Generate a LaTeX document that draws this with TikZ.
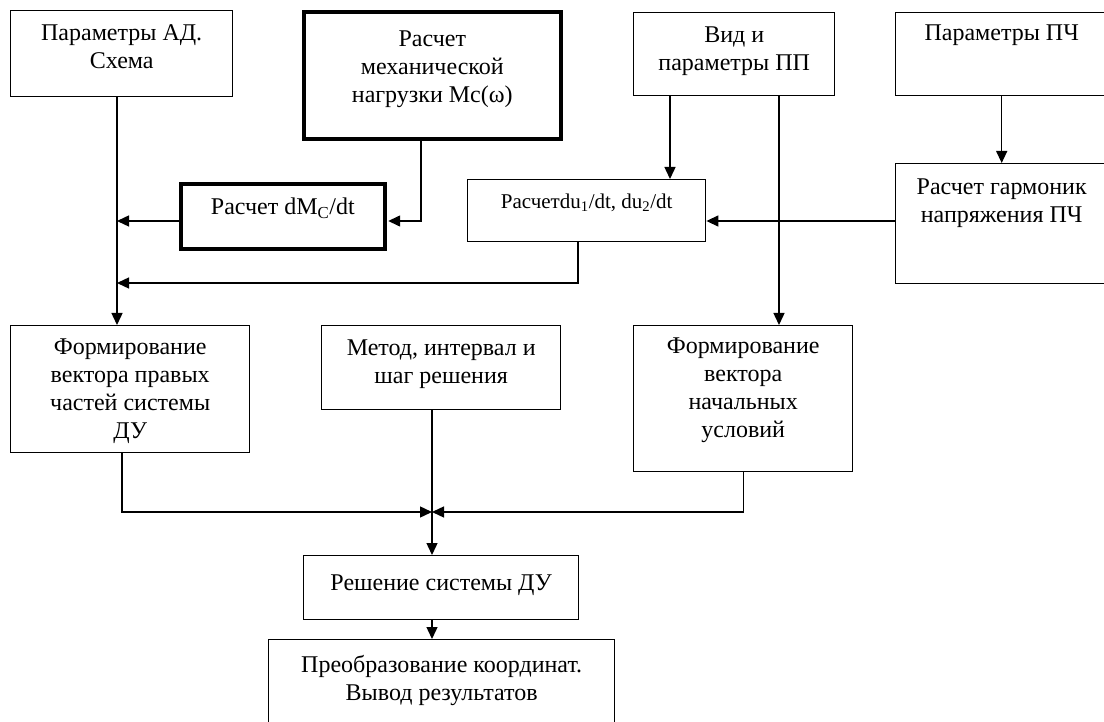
\documentclass[tikz,border=0pt]{standalone}
\usepackage{fontspec}
\setmainfont{Liberation Serif}
\usetikzlibrary{arrows.meta, positioning}

\begin{document}
\begin{tikzpicture}[
        x = 1pt, y = -1pt,
        line width = 1.4pt,
        >= {Triangle[length = 12pt, width = 11pt]},
        blk/.style n args = {3}{draw, align = center, inner sep = 0pt,
            anchor = north west, minimum width = #1pt,
            text height = #2pt, text depth = #3pt,
            font = \fontsize{24}{28}\selectfont},
        bold blk/.style = {line width = 3.6pt}
    ]

      \useasboundingbox (0,0) rectangle (1104,722);
      \clip (0,0) rectangle (1104,722);

      \node[blk = {222}{58}{28}] (adpar) at (10,10) {Параметры АД.\\ Схема};
      \node[blk = {257}{91}{36}, bold blk] (mload) at (302,10) {Расчет\\ механической\\ нагрузки Mc(ω)};
      \node[blk = {201}{58}{25}] (ppvid) at (633,12) {Вид и\\ параметры ПП};
      \node[blk = {212}{28}{55}] (pchpar) at (895,12) {Параметры ПЧ};

      \node[blk = {204}{31}{34}, bold blk] (dmc) at (179,182) {Расчет dM\textsubscript{C}/dt};
      \node[blk = {238}{29}{33}, font = \fontsize{21}{24}\selectfont] (dudt) at (467,179) {Расчетdu\textsubscript{1}/dt, du\textsubscript{2}/dt};
      \node[blk = {212}{59}{61}] (harm) at (895,163) {Расчет гармоник\\ напряжения ПЧ};

      \node[blk = {239}{113}{14}] (rhs) at (10,325) {Формирование\\ вектора правых\\ частей системы\\ ДУ};
      \node[blk = {239}{58}{26}] (meth) at (321,325) {Метод, интервал и\\ шаг решения};
      \node[blk = {219}{112}{34}] (init) at (633,325) {Формирование\\ вектора\\ начальных\\ условий};

      \node[blk = {275}{35}{29}] (solve) at (303,555) {Решение системы ДУ};
      \node[blk = {346}{61}{60}] (out) at (268,639) {Преобразование координат.\\ Вывод результатов};

      \coordinate (busL) at (117,0);
      \coordinate (xMl) at (421,0);
      \coordinate (xDu) at (578,0);
      \coordinate (xPa) at (670,0);
      \coordinate (xPb) at (779,0);
      \coordinate (xRhs) at (122,0);
      \coordinate (xM) at (432,0);
      \coordinate (yA) at (0,221);
      \coordinate (yB) at (0,283);
      \coordinate (yC) at (0,512);

      \draw[->] (adpar.south -| busL) -- (rhs.north -| busL);
      \draw[->] (dmc.west |- yA) -- (busL |- yA);
      \draw[->, shorten > = 1.6pt] (mload.south -| xMl) |- (dmc.east |- yA);
      \draw[->] (dudt.south -| xDu) |- (busL |- yB);

      \draw[->] (ppvid.south -| xPa) -- (dudt.north -| xPa);
      \draw[->] (ppvid.south -| xPb) -- (init.north -| xPb);
      \draw[->] (pchpar.south) -- (harm.north);
      \draw[->] (harm.west |- yA) -- (dudt.east |- yA);

      \draw[->] (rhs.south -| xRhs) |- (xM |- yC);
      \draw[->] (init.south) |- (xM |- yC);
      \draw[->] (meth.south -| xM) -- (solve.north -| xM);
      \draw[->] (solve.south -| xM) -- (out.north -| xM);

\end{tikzpicture}
\end{document}
